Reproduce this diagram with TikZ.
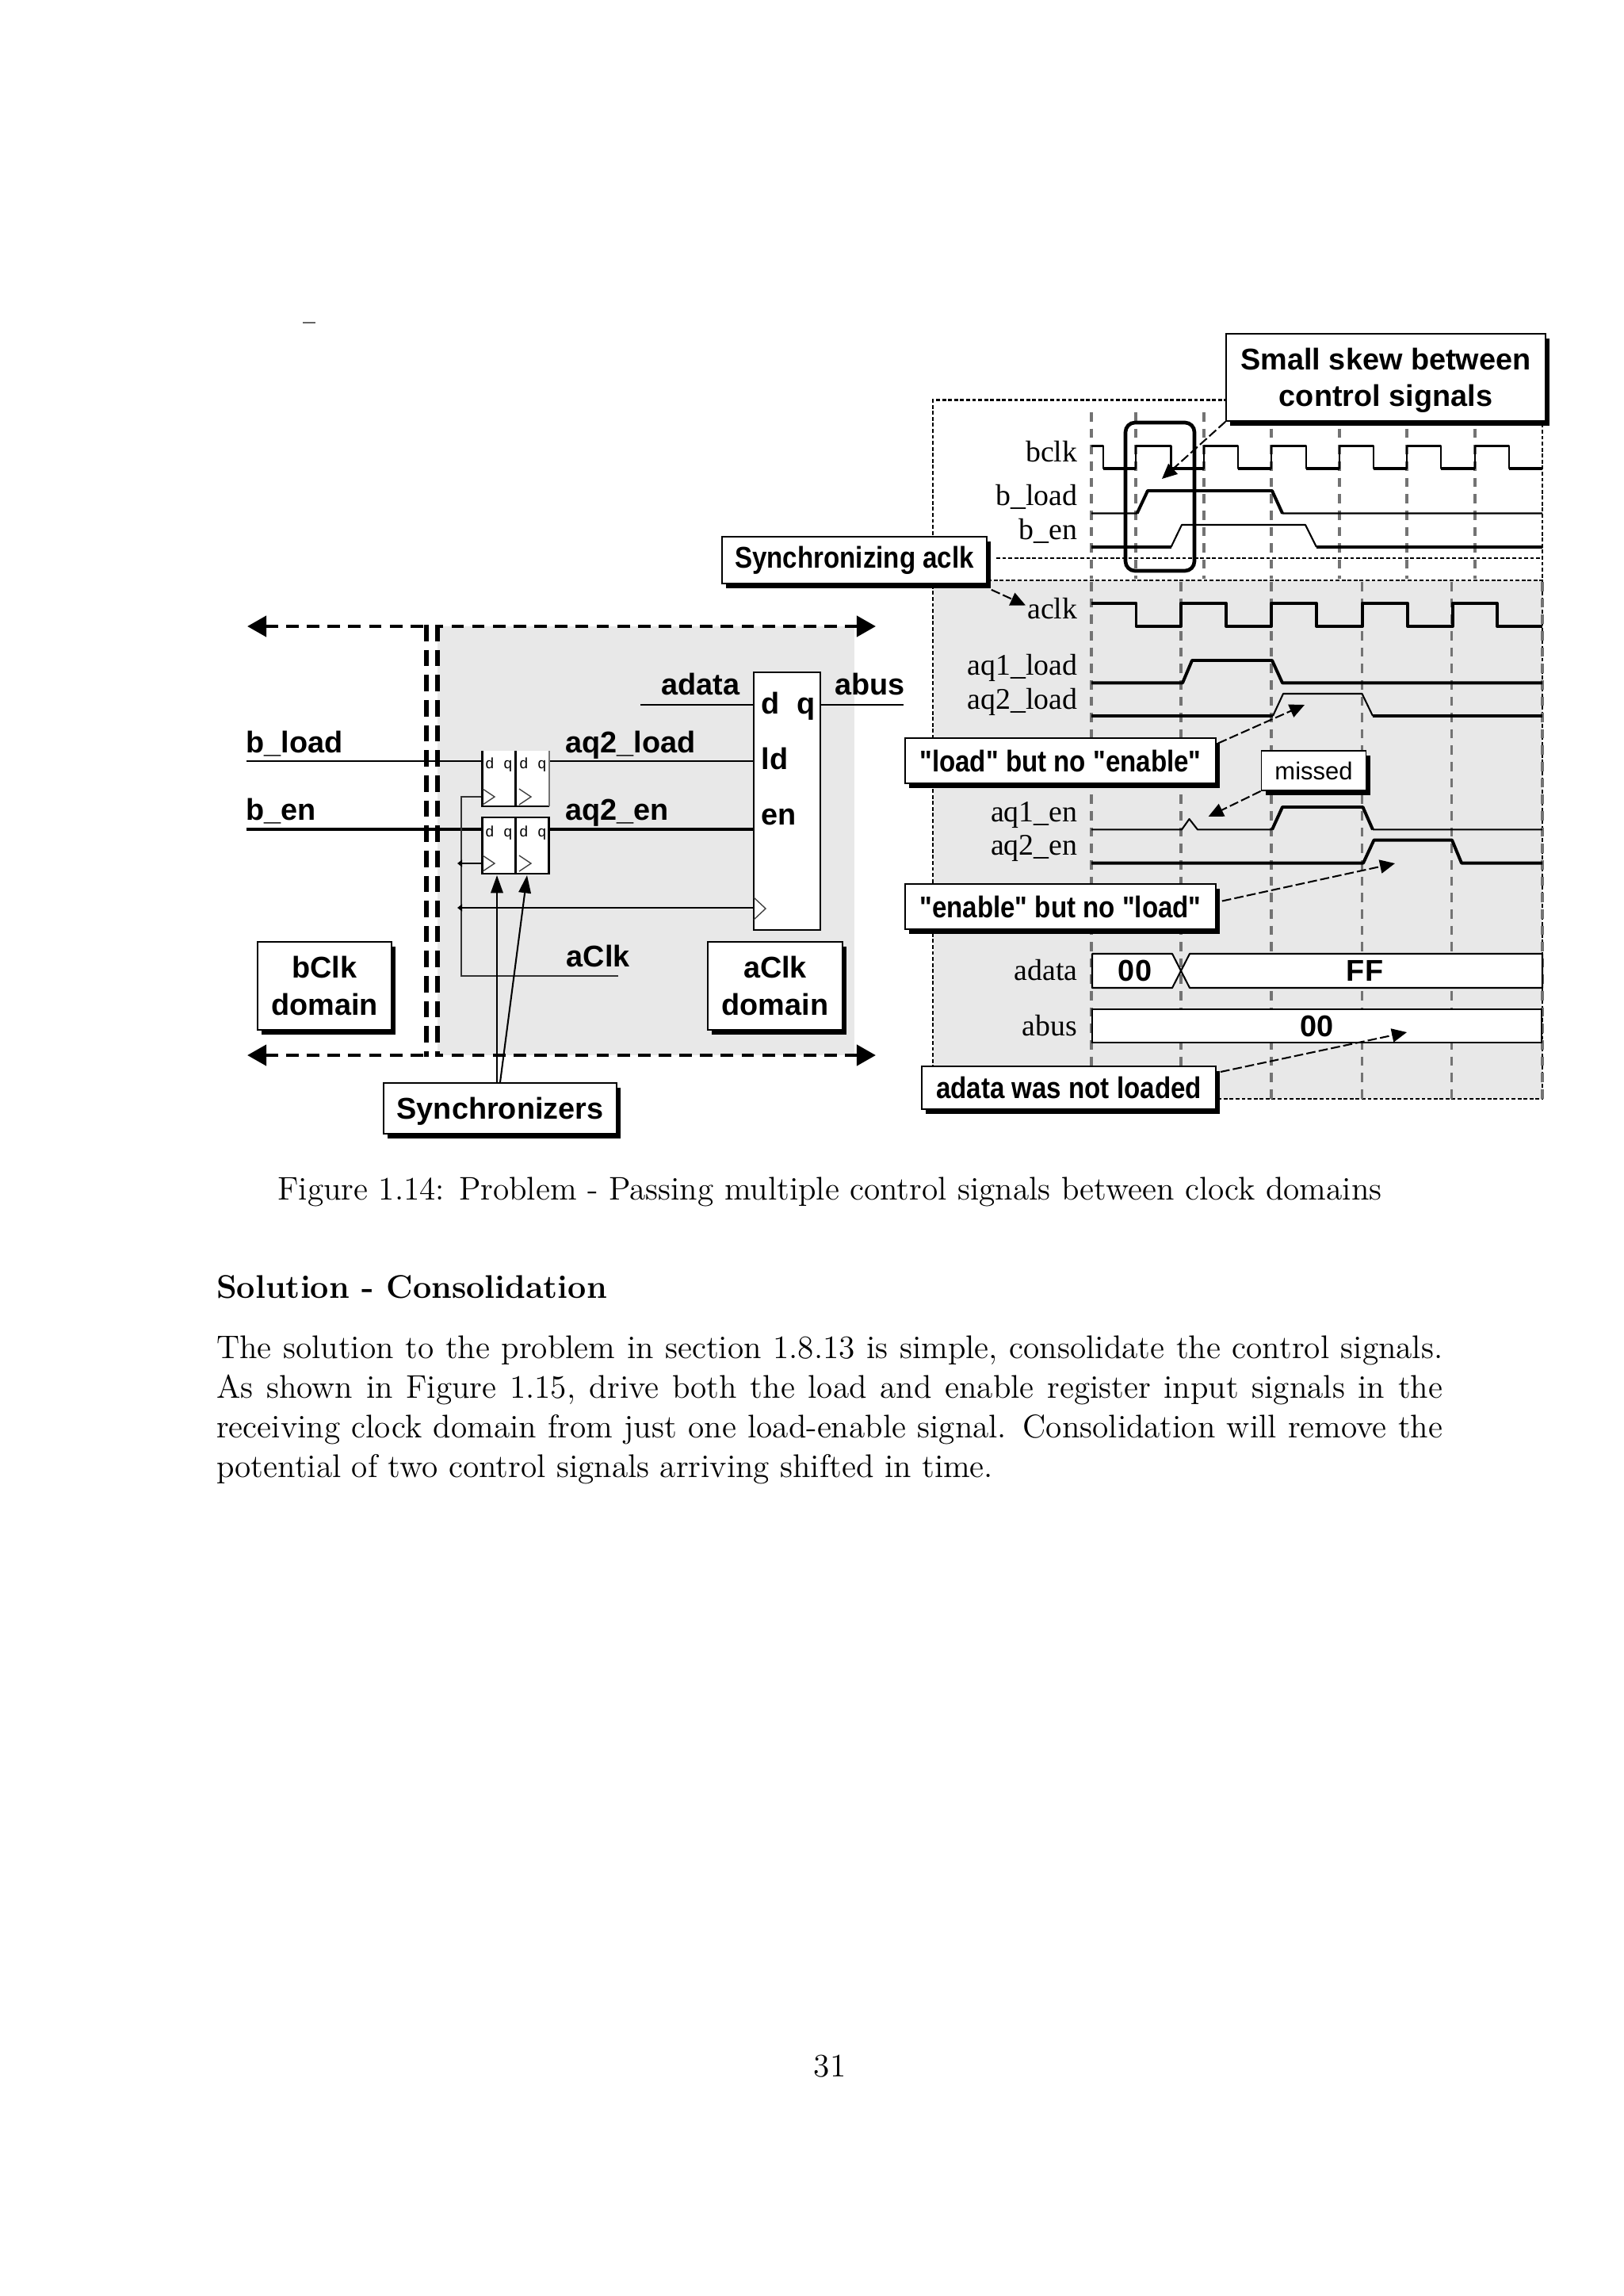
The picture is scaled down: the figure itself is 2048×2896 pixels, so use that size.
\documentclass[tikz,border=0pt]{standalone}
\usepackage{fontspec}
\usetikzlibrary{arrows.meta,shadows}
\newfontfamily\sansf{Liberation Sans}
\newfontfamily\sansn[FakeStretch=0.875]{Liberation Sans}
\newfontfamily\timesf{Liberation Serif}
\def\U{0.29066pt}
\newcommand{\dn}[1]{\raisebox{-1.1pt}[\height][\depth]{#1}}
\definecolor{bgray}{HTML}{E8E8E8}
\tikzset{
  tBold/.style={font=\sansf\bfseries\fontsize{11}{13.6}\selectfont},
  tNarrow/.style={font=\sansn\bfseries\fontsize{11}{13.6}\selectfont},
  tSig/.style={font=\sansf\bfseries\fontsize{11}{13}\selectfont,anchor=base west,inner sep=0pt},
  tWave/.style={font=\timesf\fontsize{11}{13}\selectfont,anchor=base east,inner sep=0pt},
  tTiny/.style={font=\sansf\fontsize{5.5}{6}\selectfont,inner sep=0pt,anchor=base},
  tVal/.style={font=\sansf\bfseries\fontsize{11}{13}\selectfont,inner sep=0pt},
  tBody/.style={font=\fontsize{12}{14.5}\selectfont,inner sep=0pt},
  callout/.style={draw=black,fill=white,line width=.5pt,inner sep=0pt,align=center,tBold,
     general shadow={fill=black,shadow xshift=1.5pt,shadow yshift=-1.7pt}},
  ffbox/.style={fill=white,inner sep=0pt,outer sep=0pt,minimum width=84*\U},
  domline/.style={line width=1.4pt,dash pattern=on 4.6pt off 3pt,
     {Triangle[length=7pt,width=7.5pt]}-},
  domvert/.style={line width=1.7pt,dash pattern=on 6pt off 3.2pt},
  grid/.style={draw=black!55,line width=.9pt,dash pattern=on 3.4pt off 2.6pt},
  frame/.style={draw=black,line width=.8pt,dash pattern=on 1.4pt off .8pt},
  wave/.style={line width=.6pt,line join=round},
  waveb/.style={line width=1.15pt,line join=round},
  sigline/.style={line width=.6pt},
  note/.style={line width=.6pt,dash pattern=on 3.4pt off 1.2pt,-{Triangle[length=5.5pt,width=5pt]}},
  uparrow/.style={line width=.6pt,-{Triangle[length=6.5pt,width=4.5pt]}},
  dotend/.style={line width=.6pt,-{Triangle[length=1.8pt,width=2.6pt]}},
  clk/.style={line width=.4pt,black!80},
}
\begin{document}
\begin{tikzpicture}[x=\U,y=-\U]
\useasboundingbox (0,0) rectangle (2048,2896);
\fill[white] (0,0) rectangle (2048,2896);
\draw[black!60,line width=.5pt] (382,407) -- (398,407);

% ---------- left diagram ----------
\fill[bgray] (552,790) rectangle (1078,1331);
\draw[domline] (312,790) -- (536,790);
\draw[domline] (312,1331) -- (536,1331);
\draw[domline] (1105,790) -- (554,790);
\draw[domline] (1105,1331) -- (554,1331);
\draw[domvert] (538,788) -- (538,1333);
\draw[domvert] (552,788) -- (552,1333);

\node[tSig] (lblBload) at (310,949) {b\_load};
\node[tSig] (lblBen) at (310,1034) {b\_en};
\coordinate (inA) at (311,960);
\coordinate (inB) at (311,1046);
\coordinate (clkEnd) at (780,1231);
\coordinate (clkCorner) at (582,1231);
\coordinate (dataIn) at (808,889);
\coordinate (busOut) at (1140,889);
\coordinate (jB) at (577,1089);
\coordinate (jR) at (577,1145);

\node[ffbox,minimum height=70*\U] (ffa) at (650.7,982) {};
\node[ffbox,minimum height=71*\U] (ffb) at (650.7,1066.5) {};
\node[fill=white,draw=black,line width=.5pt,inner sep=0pt,minimum width=84*\U,minimum height=325*\U] (reg) at (993.2,1010.5) {};

\draw[sigline] (inA) -- (ffa.west |- inA);
\draw[line width=.9pt] (inB) -- (ffb.west |- inB);
\draw[sigline] (ffa.east |- inA) -- (reg.west |- inA);
\draw[line width=.9pt] (ffb.east |- inB) -- (reg.west |- inB);
\draw[clk] (ffa.west |- 0,1005) -| (clkCorner) -- (clkEnd);
\draw[dotend] (ffb.west |- jB) -- (jB);
\draw[dotend] (reg.west |- jR) -- (jR);
\draw[sigline] (dataIn) -- (reg.west |- dataIn);
\draw[sigline] (reg.east |- dataIn) -- (busOut);

\draw[line width=.8pt] (ffa.north west) -- (ffa.south west) -- (ffa.south east);
\draw[black!55,line width=.7pt] (ffa.south east) -- (ffa.north east);
\draw[line width=.9pt] (ffa.north) -- (ffa.south);
\draw[line width=.8pt] (ffb.north west) rectangle (ffb.south east);
\draw[line width=.9pt] (ffb.north) -- (ffb.south);
\foreach \cx in {609,655}{
  \draw[black!75,line width=.4pt] (\cx,995) -- (\cx+15,1005) -- (\cx,1015);
  \draw[black!75,line width=.4pt] (\cx,1079) -- (\cx+15,1089) -- (\cx,1099);
}
\draw[black!75,line width=.4pt] (951,1132) -- (966,1146) -- (951,1160);
\node[tTiny] (ffaD1) at (618,969) {d};
\node[tTiny] (ffaQ1) at (641,969) {q};
\node[tTiny] (ffaD2) at (661,969) {d};
\node[tTiny] (ffaQ2) at (684,969) {q};
\node[tTiny] (ffbD1) at (618,1055) {d};
\node[tTiny] (ffbQ1) at (641,1055) {q};
\node[tTiny] (ffbD2) at (661,1055) {d};
\node[tTiny] (ffbQ2) at (684,1055) {q};

\node[tSig] (lblAqLoad) at (713,949) {aq2\_load};
\node[tSig] (lblAqEn) at (713,1034) {aq2\_en};
\node[tSig] (lblAclk) at (714,1219) {aClk};
\node[tSig] (lblAdata) at (834,876.5) {adata};
\node[tSig] (lblAbus) at (1053,876.5) {abus};
\node[tSig] (regD) at (960,900.7) {d};
\node[tSig] (regQ) at (1005,900.7) {q};
\node[tSig] (regLd) at (960,970) {ld};
\node[tSig] (regEn) at (960,1040) {en};

\node[callout,minimum width=169*\U,minimum height=111*\U] (bdom) at (409.5,1243.5) {bClk\\domain};
\node[callout,minimum width=170*\U,minimum height=111*\U] (adom) at (978,1243.5) {aClk\\domain};
\node[callout,minimum width=294*\U,minimum height=64*\U] (sync) at (631,1398) {\dn{Synchronizers}};
\draw[uparrow] ([xshift=-4*\U]sync.north) -- (627,1104);
\draw[uparrow] (sync.north) -- (665,1104);

% ---------- timing diagram ----------
\fill[bgray] (1178,732) rectangle (1946,1386);
\draw[frame] (1177,1386) -- (1177,504.6) -- (1946,504.6) -- (1946,1386) -- cycle;
\draw[frame] (1257,704) -- (1946,704);
\draw[frame] (1178,732) -- (1946,732);
\foreach \gx in {1377,1433,1519,1604,1690,1775,1861}
  \draw[grid] (\gx,520) -- (\gx,730);
\foreach \gx in {1377,1490,1604,1718.5,1831.5,1946}
  \draw[grid] (\gx,734) -- (\gx,1386);

% bclk
\draw[wave] (1377,562.5) -- (1392,562.5) -- (1392,591) -- (1433,591) -- (1433,562.5) -- (1477.5,562.5) -- (1477.5,591) -- (1519,591) -- (1519,562.5) -- (1562,562.5) -- (1562,591) -- (1604,591) -- (1604,562.5) -- (1648,562.5) -- (1648,591) -- (1690,591) -- (1690,562.5) -- (1733,562.5) -- (1733,591) -- (1775,591) -- (1775,562.5) -- (1818,562.5) -- (1818,591) -- (1861,591) -- (1861,562.5) -- (1904,562.5) -- (1904,591) -- (1946,591);
\foreach \a/\b in {1392/1433,1477.5/1519,1562/1604,1648/1690,1733/1775,1818/1861,1904/1946}
  \draw[waveb] (\a,591) -- (\b,591);
\foreach \a in {1392,1433,1477.5,1519,1562,1604,1648,1690,1733,1775,1818,1861,1904}
  \draw[line width=.85pt] (\a,562.5) -- (\a,591);
% b_load
\draw[wave] (1377,647.5) -- (1434.6,647.5) -- (1448,619) -- (1605,619) -- (1618,647.5) -- (1946,647.5);
\draw[waveb] (1434.6,647.5) -- (1448,619) -- (1605,619) -- (1618,647.5);
% b_en
\draw[wave] (1477.5,690) -- (1491,662) -- (1647,662) -- (1661,690);
\draw[waveb] (1377,690) -- (1477.5,690) (1661,690) -- (1946,690);
% aclk
\draw[waveb] (1377,761) -- (1433.5,761) -- (1433.5,790) -- (1490,790) -- (1490,761) -- (1547,761) -- (1547,790) -- (1604,790) -- (1604,761) -- (1661,761) -- (1661,790) -- (1719,790) -- (1719,761) -- (1776,761) -- (1776,790) -- (1832.5,790) -- (1832.5,761) -- (1889,761) -- (1889,790) -- (1946,790);
% aq1_load
\draw[waveb] (1377,861.4) -- (1492,861.4) -- (1504,833) -- (1605,833) -- (1618,861.4) -- (1946,861.4);
% aq2_load
\draw[wave] (1606,903) -- (1619,875) -- (1718.5,875) -- (1732,903);
\draw[waveb] (1377,903) -- (1606,903) (1732,903) -- (1946,903);
% aq1_en
\draw[wave] (1377,1046.4) -- (1491,1046.4) -- (1500.5,1033) -- (1511,1046.4) -- (1605,1046.4) (1732,1046.4) -- (1946,1046.4);
\draw[waveb] (1605,1046.4) -- (1618,1018) -- (1719.5,1018) -- (1732,1046.4);
% aq2_en
\draw[waveb] (1377,1088.6) -- (1720,1088.6) -- (1733.5,1059.6) -- (1832,1059.6) -- (1844,1088.6) -- (1946,1088.6);
% adata, abus
\fill[white] (1378,1203) -- (1479,1203) -- (1490,1224.5) -- (1479,1246) -- (1378,1246) -- cycle;
\fill[white] (1946,1203) -- (1501,1203) -- (1490,1224.5) -- (1501,1246) -- (1946,1246) -- cycle;
\draw[wave] (1378,1203) -- (1479,1203) -- (1501,1246) -- (1946,1246) -- (1946,1203) -- (1501,1203) -- (1479,1246) -- (1378,1246) -- cycle;
\node[tVal] (valA) at (1432,1224.5) {00};
\node[tVal] (valB) at (1722,1224.5) {FF};
\node[fill=white,draw=black,line width=.6pt,inner sep=0pt,minimum width=567*\U,minimum height=42*\U] (busBox) at (1661.5,1294) {};
\node[tVal] (valC) at (busBox.center) {00};

% skew marker
\draw[line width=1.35pt,rounded corners=3.5pt] (1420,533) rectangle (1507,720);

% labels
\node[tWave] (wBclk) at (1360,582) {bclk};
\node[tWave] (wBload) at (1360,637.5) {b\_load};
\node[tWave] (wBen) at (1360,680) {b\_en};
\node[tWave] (wAclk) at (1360,780) {aclk};
\node[tWave] (wAq1l) at (1360,851) {aq1\_load};
\node[tWave] (wAq2l) at (1360,894) {aq2\_load};
\node[tWave] (wAq1e) at (1360,1036) {aq1\_en};
\node[tWave] (wAq2e) at (1360,1078) {aq2\_en};
\node[tWave] (wAdata) at (1360,1236) {adata};
\node[tWave] (wAbus) at (1360,1306) {abus};

% callouts
\coordinate (tipSkew) at (1466,604);
\coordinate (tipAclk) at (1294,763.5);
\coordinate (tipLoad) at (1646,889);
\coordinate (tipMiss) at (1524.6,1030);
\coordinate (tipEn) at (1760,1089);
\coordinate (tipBus) at (1775,1302);
\node[callout,minimum width=403*\U,minimum height=110*\U] (cSkew) at (1748.5,476) {\dn{Small skew between}\\\dn{control signals}};
\node[callout,tNarrow,minimum width=334*\U,minimum height=59*\U] (cSync) at (1078,706.5) {Synchronizing aclk};
\node[callout,tNarrow,minimum width=392*\U,minimum height=57*\U] (cLoad) at (1338,959.5) {"load" but no "enable"};
\node[callout,minimum width=132*\U,minimum height=50*\U,font=\sansf\fontsize{9}{11}\selectfont] (cMiss) at (1657.5,972) {missed};
\node[callout,tNarrow,minimum width=392*\U,minimum height=57*\U] (cEn) at (1338,1143.5) {"enable" but no "load"};
\node[callout,tNarrow,minimum width=371*\U,minimum height=54*\U] (cBus) at (1348.5,1372) {adata was not loaded};
\draw[note] (cSkew.south west) -- (tipSkew);
\draw[note] ([xshift=5*\U,yshift=-7*\U]cSync.south east) -- (tipAclk);
\draw[note] ([xshift=2*\U,yshift=22*\U]cLoad.east) -- (tipLoad);
\draw[note] (cMiss.south west) -- (tipMiss);
\draw[note] ([xshift=7*\U,yshift=7*\U]cEn.east) -- (tipEn);
\draw[note] ([xshift=5*\U,yshift=20*\U]cBus.east) -- (tipBus);

% ---------- page text ----------
\node[tBody] (caption) at (1047,1503) {Figure 1.14: Problem - Passing multiple control signals between clock domains};
\node[tBody,anchor=base west] (heading) at (272.5,1637) {\bfseries Solution - Consolidation};
\node[tBody,anchor=north west,text width=449.7pt,align=justify] (para) at (272.5,1684) {The solution to the problem in section 1.8.13 is simple, consolidate the control signals. As shown in Figure 1.15, drive both the load and enable register input signals in the receiving clock domain from just one load-enable signal. Consolidation will remove the potential of two control signals arriving shifted in time.};
\node[tBody] (pageno) at (1047,2606) {31};
\end{tikzpicture}
\end{document}
